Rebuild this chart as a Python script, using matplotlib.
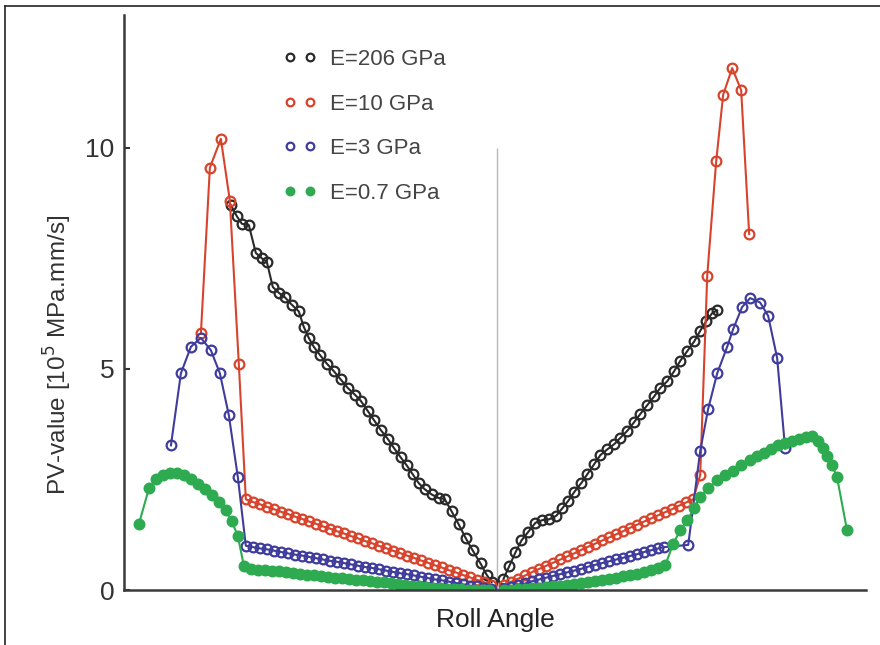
import numpy as np
import matplotlib.pyplot as plt
from matplotlib.lines import Line2D

plt.rcParams['font.family'] = ['Liberation Sans', 'DejaVu Sans']

# roll angle (arbitrary units, 0 = centre) and PV-value [1e5 MPa.mm/s]
# E = 206 GPa
ang_206_l = [-26.7, -26.1, -25.6, -24.9, -24.2, -23.6, -23.1, -22.5, -21.9, -21.3,
             -20.6, -19.9, -19.4, -18.9, -18.4, -17.8, -17.1, -16.4, -15.7, -15.0,
             -14.3, -13.7, -13.0, -12.4, -11.7, -11.0, -10.4, -9.7, -9.1, -8.5,
             -7.9, -7.3, -6.6, -5.9, -5.3, -4.6, -3.9, -3.2, -2.5, -1.7, -1.1, -0.6]
pv_206_l = [8.70, 8.45, 8.28, 8.25, 7.62, 7.50, 7.42, 6.85, 6.72, 6.62,
            6.45, 6.30, 5.95, 5.70, 5.50, 5.32, 5.12, 4.95, 4.76, 4.57,
            4.42, 4.28, 4.05, 3.85, 3.62, 3.42, 3.22, 3.00, 2.82, 2.62,
            2.42, 2.28, 2.16, 2.08, 2.06, 1.78, 1.49, 1.18, 0.90, 0.60, 0.35, 0.18]
ang_206_r = [0.6, 1.2, 1.8, 2.4, 3.1, 3.8, 4.5, 5.2, 5.9, 6.5, 7.1, 7.7, 8.4, 9.0,
             9.7, 10.3, 11.0, 11.7, 12.3, 13.0, 13.7, 14.3, 15.0, 15.7, 16.3, 17.0,
             17.7, 18.3, 19.0, 19.7, 20.3, 20.9, 21.5, 22.0]
pv_206_r = [0.25, 0.55, 0.85, 1.12, 1.32, 1.52, 1.58, 1.60, 1.68, 1.85, 2.02, 2.22,
            2.42, 2.62, 2.85, 3.05, 3.18, 3.30, 3.44, 3.60, 3.80, 3.98, 4.18, 4.38,
            4.57, 4.72, 4.95, 5.18, 5.40, 5.62, 5.86, 6.08, 6.26, 6.32]

# E = 10 GPa
ang_10_l = [-29.7, -28.8, -27.7, -26.8, -25.9, -25.2, -24.5, -23.8, -23.1, -22.4,
            -21.7, -21.0, -20.3, -19.6, -18.9, -18.2, -17.5, -16.8, -16.1, -15.4,
            -14.7, -14.0, -13.3, -12.6, -11.9, -11.2, -10.5, -9.8, -9.1, -8.4,
            -7.7, -7.0, -6.3, -5.6, -4.9, -4.2, -3.5, -2.8, -2.1, -1.4, -0.7]
pv_10_l = [5.80, 9.55, 10.20, 8.80, 5.10, 2.05, 1.99, 1.94, 1.88, 1.83,
           1.77, 1.72, 1.66, 1.61, 1.55, 1.50, 1.44, 1.39, 1.33, 1.28,
           1.22, 1.17, 1.11, 1.06, 1.00, 0.95, 0.89, 0.84, 0.78, 0.73,
           0.67, 0.62, 0.56, 0.51, 0.45, 0.40, 0.34, 0.29, 0.23, 0.18, 0.12]
ang_10_r = [0.7, 1.4, 2.1, 2.8, 3.5, 4.2, 4.9, 5.6, 6.3, 7.0, 7.7, 8.4, 9.1, 9.8,
            10.5, 11.2, 11.9, 12.6, 13.3, 14.0, 14.7, 15.4, 16.1, 16.8, 17.5, 18.2,
            18.9, 19.6, 20.3, 21.0, 21.9, 22.6, 23.5, 24.4, 25.2]
pv_10_r = [0.12, 0.19, 0.26, 0.33, 0.41, 0.48, 0.55, 0.62, 0.69, 0.76, 0.83, 0.91,
           0.98, 1.05, 1.12, 1.19, 1.26, 1.33, 1.41, 1.48, 1.55, 1.62, 1.69, 1.76,
           1.83, 1.91, 1.98, 2.05, 2.60, 7.10, 9.70, 11.20, 11.80, 11.30, 8.05]

# E = 3 GPa
ang_3_l = [-32.7, -31.7, -30.7, -29.7, -28.7, -27.8, -26.9, -26.0, -25.2,
           -24.5, -23.8, -23.1, -22.4, -21.7, -21.0, -20.3, -19.6, -18.9, -18.2,
           -17.5, -16.8, -16.1, -15.4, -14.7, -14.0, -13.3, -12.6, -11.9, -11.2,
           -10.5, -9.8, -9.1, -8.4, -7.7, -7.0, -6.3, -5.6, -4.9, -4.2, -3.5,
           -2.8, -2.1, -1.4, -0.7]
pv_3_l = [3.27, 4.90, 5.50, 5.70, 5.42, 4.90, 3.95, 2.55, 1.00,
          0.97, 0.94, 0.92, 0.89, 0.86, 0.83, 0.80, 0.78, 0.75, 0.72,
          0.69, 0.66, 0.64, 0.61, 0.58, 0.55, 0.52, 0.50, 0.47, 0.44,
          0.41, 0.38, 0.36, 0.33, 0.30, 0.27, 0.24, 0.22, 0.19, 0.16, 0.13,
          0.10, 0.08, 0.05, 0.02]
ang_3_r = [0.7, 1.4, 2.1, 2.8, 3.5, 4.2, 4.9, 5.6, 6.3, 7.0, 7.7, 8.4, 9.1, 9.8,
           10.5, 11.2, 11.9, 12.6, 13.3, 14.0, 14.7, 15.4, 16.1, 16.7, 19.1, 20.3,
           21.1, 22.0, 23.0, 23.6, 24.5, 25.3, 26.3, 27.1, 28.0, 28.8]
pv_3_r = [0.03, 0.07, 0.11, 0.15, 0.20, 0.24, 0.28, 0.32, 0.36, 0.40, 0.44, 0.48,
          0.53, 0.57, 0.61, 0.65, 0.69, 0.73, 0.77, 0.81, 0.86, 0.90, 0.94, 0.97,
          1.02, 3.15, 4.10, 4.90, 5.50, 5.90, 6.40, 6.60, 6.50, 6.20, 5.25, 3.20]

# E = 0.7 GPa
ang_07_l = [-35.9, -34.9, -34.2, -33.5, -32.8, -32.1, -31.4, -30.7, -30.0, -29.3,
            -28.6, -27.9, -27.2, -26.6, -26.0, -25.4,
            -24.7, -24.0, -23.3, -22.6, -21.9, -21.2, -20.5, -19.8, -19.1, -18.4,
            -17.7, -17.0, -16.3, -15.6, -14.9, -14.2, -13.5, -12.8, -12.1, -11.4,
            -10.7, -10.0, -9.3, -8.6, -7.9, -7.2, -6.5, -5.8, -5.1, -4.4,
            -3.7, -3.0, -2.3, -1.6, -0.9]
pv_07_l = [1.50, 2.30, 2.50, 2.60, 2.65, 2.65, 2.60, 2.50, 2.40, 2.28,
           2.15, 2.00, 1.80, 1.55, 1.22, 0.55,
           0.48, 0.46, 0.45, 0.43, 0.42, 0.40, 0.38, 0.37, 0.35, 0.33,
           0.32, 0.30, 0.28, 0.27, 0.25, 0.23, 0.22, 0.20, 0.18, 0.17,
           0.15, 0.13, 0.12, 0.10, 0.08, 0.07, 0.05, 0.04, 0.03, 0.02,
           0.02, 0.01, 0.01, 0.01, 0.00]
ang_07_r = [0.7, 1.4, 2.1, 2.8, 3.5, 4.2, 4.9, 5.6, 6.3, 7.0, 7.7, 8.4, 9.1, 9.8,
            10.5, 11.2, 11.9, 12.6, 13.3, 14.0, 14.7, 15.4, 16.1, 16.8,
            17.6, 18.3, 19.0, 19.7, 20.3, 21.1, 22.0, 22.8, 23.6, 24.4,
            25.3, 26.0, 26.7, 27.4, 28.1, 28.8, 29.5, 30.2, 30.9, 31.5,
            32.1, 32.6, 33.0, 33.5, 34.0, 35.0]
pv_07_r = [0.00, 0.01, 0.02, 0.03, 0.04, 0.05, 0.06, 0.08, 0.09, 0.11, 0.13, 0.15,
           0.17, 0.20, 0.22, 0.25, 0.28, 0.31, 0.34, 0.37, 0.41, 0.45, 0.50, 0.56,
           1.05, 1.35, 1.58, 1.85, 2.10, 2.30, 2.48, 2.60, 2.70, 2.82,
           2.93, 3.02, 3.10, 3.18, 3.27, 3.32, 3.38, 3.42, 3.46, 3.49,
           3.38, 3.22, 3.02, 2.82, 2.55, 1.35]

labels = ['E=206 GPa', 'E=10 GPa', 'E=3 GPa', 'E=0.7 GPa']
colors = ['#2a2a2a', '#d8432c', '#3f3c9c', '#2eab50']

fig = plt.figure(figsize=(8.8, 6.45), dpi=100)
W, H = 880.0, 645.0
ax = fig.add_axes([124/W, 1 - 590/H, (866 - 124)/W, (590 - 15)/H])

# centre line
ax.vlines(0, 0, 10, color='#b8b8b8', lw=1.0, zorder=1)

series = [
    (ang_10_l, pv_10_l, ang_10_r, pv_10_r, 1),
    (ang_3_l, pv_3_l, ang_3_r, pv_3_r, 2),
    (ang_07_l, pv_07_l, ang_07_r, pv_07_r, 3),
    (ang_206_l, pv_206_l, ang_206_r, pv_206_r, 0),
]
for xl, yl, xr, yr, k in series:
    c = colors[k]
    face = c if k == 3 else 'none'
    for xs, ys in ((xl, yl), (xr, yr)):
        ax.plot(xs, ys, color=c, lw=1.5, marker='o', ms=7, mfc=face, mec=c,
                mew=1.6, zorder=2 + k * 0.1)

ax.set_xlim(-37.4, 36.9)
ax.set_ylim(0, 13)
ax.set_xticks([])
ax.set_yticks([0, 5, 10])
ax.tick_params(axis='y', direction='in', length=4, width=1.5, pad=7,
               labelsize=19, colors='#333333')
for s in ['top', 'right']:
    ax.spines[s].set_visible(False)
for s in ['left', 'bottom']:
    ax.spines[s].set_linewidth(1.8)
    ax.spines[s].set_color('#3a3a3a')

ax.set_xlabel('Roll Angle', fontsize=19, color='#222222', labelpad=13)
fig.text(58/W, 1 - 355/H, 'PV-value [10$^5$ MPa.mm/s]', rotation=90,
         ha='center', va='center', fontsize=17.5, color='#333333')

handles = []
for k in range(4):
    face = colors[k] if k == 3 else 'none'
    handles.append(Line2D([], [], ls='none', marker='o', ms=5.5, mfc=face,
                          mec=colors[k], mew=1.6))
leg = ax.legend(handles, labels, numpoints=2, frameon=False, fontsize=16,
                loc='upper left', bbox_to_anchor=((283 - 124)/742, (590 - 49)/575),
                labelspacing=1.06, handlelength=1.5, handletextpad=0.6,
                borderpad=0, borderaxespad=0)
for t in leg.get_texts():
    t.set_color('#444444')

# outer frame of the figure panel
fig.add_artist(Line2D([5/W, 1], [1 - 6/H, 1 - 6/H], transform=fig.transFigure,
                      color='#222222', lw=1.2))
fig.add_artist(Line2D([5/W, 5/W], [0, 1 - 6/H], transform=fig.transFigure,
                      color='#222222', lw=1.2))

fig.savefig('out.png', dpi=100)
